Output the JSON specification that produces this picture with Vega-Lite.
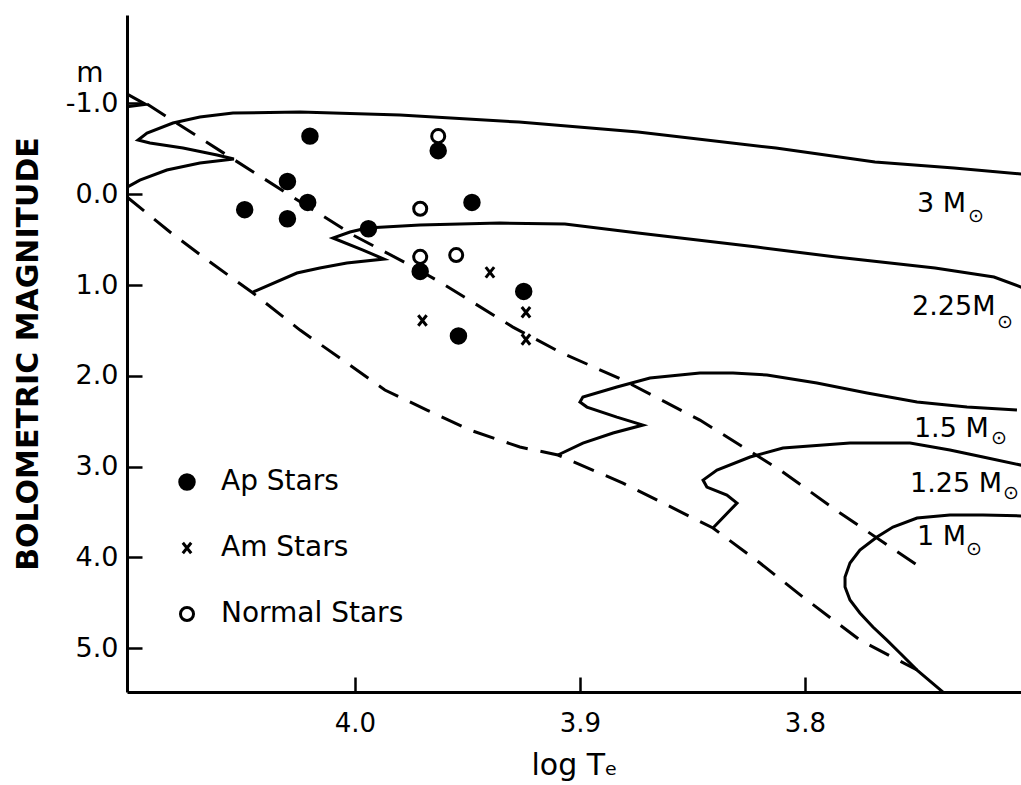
{
  "$schema": "https://vega.github.io/schema/vega-lite/v6.json",
  "width": 894,
  "height": 677,
  "autosize": {"type": "none"},
  "padding": {"left": 127, "top": 15, "right": 0, "bottom": 93},
  "background": "white",
  "config": {
    "view": {"stroke": null},
    "font": "DejaVu Sans",
    "axis": {"grid": false, "domainColor": "black", "domainWidth": 3, "tickColor": "black", "tickWidth": 2.5, "tickSize": -15, "labelColor": "black", "titleColor": "black", "labelFont": "DejaVu Sans", "titleFont": "DejaVu Sans", "labelOverlap": false, "labelFlush": false},
    "legend": {"labelFontSize": 28, "labelFont": "DejaVu Sans", "labelColor": "black", "labelLimit": 400, "symbolStrokeColor": "black", "symbolStrokeWidth": 3, "symbolOpacity": 1, "rowPadding": 38, "labelOffset": 20, "padding": 0}
  },
  "datasets": {
    "stars": [
      {"type": "Ap Stars", "x": 4.020, "y": -0.64},
      {"type": "Ap Stars", "x": 4.030, "y": -0.14},
      {"type": "Ap Stars", "x": 4.021, "y": 0.09},
      {"type": "Ap Stars", "x": 4.049, "y": 0.17},
      {"type": "Ap Stars", "x": 4.030, "y": 0.27},
      {"type": "Ap Stars", "x": 3.994, "y": 0.38},
      {"type": "Ap Stars", "x": 3.963, "y": -0.48},
      {"type": "Ap Stars", "x": 3.948, "y": 0.09},
      {"type": "Ap Stars", "x": 3.971, "y": 0.85},
      {"type": "Ap Stars", "x": 3.925, "y": 1.07},
      {"type": "Ap Stars", "x": 3.954, "y": 1.56},
      {"type": "Normal Stars", "x": 3.963, "y": -0.64},
      {"type": "Normal Stars", "x": 3.971, "y": 0.16},
      {"type": "Normal Stars", "x": 3.971, "y": 0.69},
      {"type": "Normal Stars", "x": 3.955, "y": 0.67},
      {"type": "Am Stars", "x": 3.940, "y": 0.86},
      {"type": "Am Stars", "x": 3.924, "y": 1.30},
      {"type": "Am Stars", "x": 3.970, "y": 1.39},
      {"type": "Am Stars", "x": 3.954, "y": 1.56},
      {"type": "Am Stars", "x": 3.924, "y": 1.60}
    ],
    "tracks": [
      {"id": "4M", "kind": "solid", "o": 1, "x": 4.104, "y": -1.14},
      {"id": "4M", "kind": "solid", "o": 2, "x": 4.093, "y": -0.99},
      {"id": "4M", "kind": "solid", "o": 3, "x": 4.104, "y": -0.955},
      {"id": "3M", "kind": "solid", "o": 1, "x": 4.104, "y": -0.04},
      {"id": "3M", "kind": "solid", "o": 2, "x": 4.0956, "y": -0.156},
      {"id": "3M", "kind": "solid", "o": 3, "x": 4.0836, "y": -0.267},
      {"id": "3M", "kind": "solid", "o": 4, "x": 4.0689, "y": -0.344},
      {"id": "3M", "kind": "solid", "o": 5, "x": 4.0538, "y": -0.388},
      {"id": "3M", "kind": "solid", "o": 6, "x": 4.0613, "y": -0.432},
      {"id": "3M", "kind": "solid", "o": 7, "x": 4.0764, "y": -0.509},
      {"id": "3M", "kind": "solid", "o": 8, "x": 4.0911, "y": -0.564},
      {"id": "3M", "kind": "solid", "o": 9, "x": 4.0964, "y": -0.597},
      {"id": "3M", "kind": "solid", "o": 10, "x": 4.0924, "y": -0.674},
      {"id": "3M", "kind": "solid", "o": 11, "x": 4.0809, "y": -0.784},
      {"id": "3M", "kind": "solid", "o": 12, "x": 4.0689, "y": -0.850},
      {"id": "3M", "kind": "solid", "o": 13, "x": 4.0542, "y": -0.894},
      {"id": "3M", "kind": "solid", "o": 14, "x": 4.0244, "y": -0.905},
      {"id": "3M", "kind": "solid", "o": 15, "x": 3.98, "y": -0.872},
      {"id": "3M", "kind": "solid", "o": 16, "x": 3.9271, "y": -0.795},
      {"id": "3M", "kind": "solid", "o": 17, "x": 3.8742, "y": -0.685},
      {"id": "3M", "kind": "solid", "o": 18, "x": 3.8129, "y": -0.509},
      {"id": "3M", "kind": "solid", "o": 19, "x": 3.7689, "y": -0.355},
      {"id": "3M", "kind": "solid", "o": 20, "x": 3.7338, "y": -0.289},
      {"id": "3M", "kind": "solid", "o": 21, "x": 3.7022, "y": -0.22},
      {"id": "2.25M", "kind": "solid", "o": 1, "x": 4.0453, "y": 1.077},
      {"id": "2.25M", "kind": "solid", "o": 2, "x": 4.0258, "y": 0.868},
      {"id": "2.25M", "kind": "solid", "o": 3, "x": 4.0156, "y": 0.813},
      {"id": "2.25M", "kind": "solid", "o": 4, "x": 4.0036, "y": 0.758},
      {"id": "2.25M", "kind": "solid", "o": 5, "x": 3.9871, "y": 0.714},
      {"id": "2.25M", "kind": "solid", "o": 6, "x": 3.9964, "y": 0.615},
      {"id": "2.25M", "kind": "solid", "o": 7, "x": 4.0098, "y": 0.482},
      {"id": "2.25M", "kind": "solid", "o": 8, "x": 4.0022, "y": 0.416},
      {"id": "2.25M", "kind": "solid", "o": 9, "x": 3.9947, "y": 0.372},
      {"id": "2.25M", "kind": "solid", "o": 10, "x": 3.9711, "y": 0.339},
      {"id": "2.25M", "kind": "solid", "o": 11, "x": 3.9356, "y": 0.317},
      {"id": "2.25M", "kind": "solid", "o": 12, "x": 3.9067, "y": 0.328},
      {"id": "2.25M", "kind": "solid", "o": 13, "x": 3.8742, "y": 0.427},
      {"id": "2.25M", "kind": "solid", "o": 14, "x": 3.8213, "y": 0.582},
      {"id": "2.25M", "kind": "solid", "o": 15, "x": 3.7862, "y": 0.692},
      {"id": "2.25M", "kind": "solid", "o": 16, "x": 3.7422, "y": 0.813},
      {"id": "2.25M", "kind": "solid", "o": 17, "x": 3.716, "y": 0.912},
      {"id": "2.25M", "kind": "solid", "o": 18, "x": 3.704, "y": 1.022},
      {"id": "2.25M", "kind": "solid", "o": 19, "x": 3.7022, "y": 1.044},
      {"id": "1.5M", "kind": "solid", "o": 1, "x": 3.9098, "y": 2.872},
      {"id": "1.5M", "kind": "solid", "o": 2, "x": 3.8987, "y": 2.740},
      {"id": "1.5M", "kind": "solid", "o": 3, "x": 3.8853, "y": 2.630},
      {"id": "1.5M", "kind": "solid", "o": 4, "x": 3.872, "y": 2.542},
      {"id": "1.5M", "kind": "solid", "o": 5, "x": 3.8836, "y": 2.454},
      {"id": "1.5M", "kind": "solid", "o": 6, "x": 3.8969, "y": 2.344},
      {"id": "1.5M", "kind": "solid", "o": 7, "x": 3.9, "y": 2.289},
      {"id": "1.5M", "kind": "solid", "o": 8, "x": 3.8987, "y": 2.233},
      {"id": "1.5M", "kind": "solid", "o": 9, "x": 3.8836, "y": 2.123},
      {"id": "1.5M", "kind": "solid", "o": 10, "x": 3.8689, "y": 2.024},
      {"id": "1.5M", "kind": "solid", "o": 11, "x": 3.8467, "y": 1.969},
      {"id": "1.5M", "kind": "solid", "o": 12, "x": 3.832, "y": 1.969},
      {"id": "1.5M", "kind": "solid", "o": 13, "x": 3.8169, "y": 1.991},
      {"id": "1.5M", "kind": "solid", "o": 14, "x": 3.7947, "y": 2.079},
      {"id": "1.5M", "kind": "solid", "o": 15, "x": 3.7724, "y": 2.189},
      {"id": "1.5M", "kind": "solid", "o": 16, "x": 3.7502, "y": 2.289},
      {"id": "1.5M", "kind": "solid", "o": 17, "x": 3.728, "y": 2.344},
      {"id": "1.5M", "kind": "solid", "o": 18, "x": 3.7058, "y": 2.377},
      {"id": "1.25M", "kind": "solid", "o": 1, "x": 3.8409, "y": 3.676},
      {"id": "1.25M", "kind": "solid", "o": 2, "x": 3.8302, "y": 3.401},
      {"id": "1.25M", "kind": "solid", "o": 3, "x": 3.8347, "y": 3.313},
      {"id": "1.25M", "kind": "solid", "o": 4, "x": 3.8436, "y": 3.225},
      {"id": "1.25M", "kind": "solid", "o": 5, "x": 3.8453, "y": 3.148},
      {"id": "1.25M", "kind": "solid", "o": 6, "x": 3.8391, "y": 3.037},
      {"id": "1.25M", "kind": "solid", "o": 7, "x": 3.8244, "y": 2.894},
      {"id": "1.25M", "kind": "solid", "o": 8, "x": 3.8098, "y": 2.795},
      {"id": "1.25M", "kind": "solid", "o": 9, "x": 3.78, "y": 2.740},
      {"id": "1.25M", "kind": "solid", "o": 10, "x": 3.7533, "y": 2.740},
      {"id": "1.25M", "kind": "solid", "o": 11, "x": 3.7356, "y": 2.817},
      {"id": "1.25M", "kind": "solid", "o": 12, "x": 3.7209, "y": 2.894},
      {"id": "1.25M", "kind": "solid", "o": 13, "x": 3.7022, "y": 2.993},
      {"id": "1M", "kind": "solid", "o": 1, "x": 3.7022, "y": 3.544},
      {"id": "1M", "kind": "solid", "o": 2, "x": 3.7209, "y": 3.533},
      {"id": "1M", "kind": "solid", "o": 3, "x": 3.7356, "y": 3.533},
      {"id": "1M", "kind": "solid", "o": 4, "x": 3.7502, "y": 3.566},
      {"id": "1M", "kind": "solid", "o": 5, "x": 3.7609, "y": 3.665},
      {"id": "1M", "kind": "solid", "o": 6, "x": 3.768, "y": 3.775},
      {"id": "1M", "kind": "solid", "o": 7, "x": 3.7756, "y": 3.919},
      {"id": "1M", "kind": "solid", "o": 8, "x": 3.78, "y": 4.062},
      {"id": "1M", "kind": "solid", "o": 9, "x": 3.7822, "y": 4.216},
      {"id": "1M", "kind": "solid", "o": 10, "x": 3.7822, "y": 4.326},
      {"id": "1M", "kind": "solid", "o": 11, "x": 3.78, "y": 4.469},
      {"id": "1M", "kind": "solid", "o": 12, "x": 3.7756, "y": 4.612},
      {"id": "1M", "kind": "solid", "o": 13, "x": 3.7698, "y": 4.766},
      {"id": "1M", "kind": "solid", "o": 14, "x": 3.7636, "y": 4.910},
      {"id": "1M", "kind": "solid", "o": 15, "x": 3.7578, "y": 5.053},
      {"id": "1M", "kind": "solid", "o": 16, "x": 3.7502, "y": 5.240},
      {"id": "1M", "kind": "solid", "o": 17, "x": 3.7387, "y": 5.482},
      {"id": "1M", "kind": "solid", "o": 18, "x": 3.7351, "y": 5.592},
      {"id": "upper", "kind": "dashed", "o": 1, "x": 4.0924, "y": -0.993},
      {"id": "upper", "kind": "dashed", "o": 2, "x": 4.0542, "y": -0.388},
      {"id": "upper", "kind": "dashed", "o": 3, "x": 4.0276, "y": 0.031},
      {"id": "upper", "kind": "dashed", "o": 4, "x": 4.0009, "y": 0.449},
      {"id": "upper", "kind": "dashed", "o": 5, "x": 3.9756, "y": 0.780},
      {"id": "upper", "kind": "dashed", "o": 6, "x": 3.9622, "y": 0.967},
      {"id": "upper", "kind": "dashed", "o": 7, "x": 3.9298, "y": 1.463},
      {"id": "upper", "kind": "dashed", "o": 8, "x": 3.9089, "y": 1.738},
      {"id": "upper", "kind": "dashed", "o": 9, "x": 3.8809, "y": 2.046},
      {"id": "upper", "kind": "dashed", "o": 10, "x": 3.8467, "y": 2.487},
      {"id": "upper", "kind": "dashed", "o": 11, "x": 3.8111, "y": 3.037},
      {"id": "upper", "kind": "dashed", "o": 12, "x": 3.7844, "y": 3.511},
      {"id": "upper", "kind": "dashed", "o": 13, "x": 3.7502, "y": 4.084},
      {"id": "lower", "kind": "dashed", "o": 1, "x": 4.1013, "y": 0.03},
      {"id": "lower", "kind": "dashed", "o": 2, "x": 4.0822, "y": 0.416},
      {"id": "lower", "kind": "dashed", "o": 3, "x": 4.0644, "y": 0.747},
      {"id": "lower", "kind": "dashed", "o": 4, "x": 4.0453, "y": 1.088},
      {"id": "lower", "kind": "dashed", "o": 5, "x": 4.0244, "y": 1.496},
      {"id": "lower", "kind": "dashed", "o": 6, "x": 4.0067, "y": 1.804},
      {"id": "lower", "kind": "dashed", "o": 7, "x": 3.9867, "y": 2.156},
      {"id": "lower", "kind": "dashed", "o": 8, "x": 3.968, "y": 2.377},
      {"id": "lower", "kind": "dashed", "o": 9, "x": 3.9489, "y": 2.597},
      {"id": "lower", "kind": "dashed", "o": 10, "x": 3.9267, "y": 2.784},
      {"id": "lower", "kind": "dashed", "o": 11, "x": 3.9098, "y": 2.872},
      {"id": "lower", "kind": "dashed", "o": 12, "x": 3.8809, "y": 3.181},
      {"id": "lower", "kind": "dashed", "o": 13, "x": 3.8613, "y": 3.423},
      {"id": "lower", "kind": "dashed", "o": 14, "x": 3.8409, "y": 3.676},
      {"id": "lower", "kind": "dashed", "o": 15, "x": 3.82, "y": 4.062},
      {"id": "lower", "kind": "dashed", "o": 16, "x": 3.8009, "y": 4.436},
      {"id": "lower", "kind": "dashed", "o": 17, "x": 3.7756, "y": 4.910},
      {"id": "lower", "kind": "dashed", "o": 18, "x": 3.7502, "y": 5.240}
    ],
    "labels": [
      {"x": 3.7502, "y": 0.198, "text": "3 M"},
      {"x": 3.7524, "y": 1.330, "text": "2.25M"},
      {"x": 3.7516, "y": 2.674, "text": "1.5 M"},
      {"x": 3.7533, "y": 3.280, "text": "1.25 M"},
      {"x": 3.7502, "y": 3.863, "text": "1 M"}
    ],
    "subs": [
      {"x": 3.7276, "y": 0.306, "text": "⊙"},
      {"x": 3.7147, "y": 1.474, "text": "⊙"},
      {"x": 3.7173, "y": 2.751, "text": "⊙"},
      {"x": 3.7120, "y": 3.357, "text": "⊙"},
      {"x": 3.7284, "y": 3.974, "text": "⊙"}
    ],
    "unit": [
      {"x": 4.1178, "y": -1.236, "text": "m"}
    ]
  },
  "layer": [
    {
      "data": {"name": "tracks"},
      "transform": [{"filter": "datum.kind === 'solid'"}],
      "mark": {"type": "line", "stroke": "black", "strokeWidth": 3, "clip": true, "strokeJoin": "miter"},
      "encoding": {
        "x": {"field": "x", "type": "quantitative", "scale": {"domain": [3.704, 4.1013], "reverse": true, "nice": false, "zero": false}, "axis": {"title": "log Tₑ", "values": [4.0, 3.9, 3.8], "format": ".1f", "labelFontSize": 26, "labelPadding": 33, "titleFontSize": 30, "titleFontWeight": "normal", "titlePadding": 14}},
        "y": {"field": "y", "type": "quantitative", "scale": {"domain": [-1.974, 5.482], "reverse": true, "nice": false, "zero": false}, "axis": {"title": "BOLOMETRIC MAGNITUDE", "values": [-1, 0, 1, 2, 3, 4, 5], "labelExpr": "datum.value < 0 ? '-' + format(-datum.value, '.1f') : format(datum.value, '.1f')", "labelFontSize": 27, "labelPadding": 24, "titleFontSize": 30, "titleFontWeight": "bold", "titlePadding": 22}},
        "detail": {"field": "id"},
        "order": {"field": "o", "type": "quantitative"}
      }
    },
    {
      "data": {"name": "tracks"},
      "transform": [{"filter": "datum.kind === 'dashed'"}],
      "mark": {"type": "line", "stroke": "black", "strokeWidth": 3, "strokeDash": [22, 13], "clip": true},
      "encoding": {
        "x": {"field": "x", "type": "quantitative", "scale": {"domain": [3.704, 4.1013], "reverse": true, "nice": false, "zero": false}, "axis": {"title": "log Tₑ", "values": [4.0, 3.9, 3.8], "format": ".1f", "labelFontSize": 26, "labelPadding": 33, "titleFontSize": 30, "titleFontWeight": "normal", "titlePadding": 14}},
        "y": {"field": "y", "type": "quantitative", "scale": {"domain": [-1.974, 5.482], "reverse": true, "nice": false, "zero": false}, "axis": {"title": "BOLOMETRIC MAGNITUDE", "values": [-1, 0, 1, 2, 3, 4, 5], "labelExpr": "datum.value < 0 ? '-' + format(-datum.value, '.1f') : format(datum.value, '.1f')", "labelFontSize": 27, "labelPadding": 24, "titleFontSize": 30, "titleFontWeight": "bold", "titlePadding": 22}},
        "detail": {"field": "id"},
        "order": {"field": "o", "type": "quantitative"}
      }
    },
    {
      "mark": {"type": "rule", "stroke": "black", "strokeWidth": 3},
      "encoding": {
        "y": {"datum": -1.974, "type": "quantitative", "scale": {"domain": [-1.974, 5.482], "reverse": true, "nice": false, "zero": false}, "axis": {"title": "BOLOMETRIC MAGNITUDE", "values": [-1, 0, 1, 2, 3, 4, 5], "labelExpr": "datum.value < 0 ? '-' + format(-datum.value, '.1f') : format(datum.value, '.1f')", "labelFontSize": 27, "labelPadding": 24, "titleFontSize": 30, "titleFontWeight": "bold", "titlePadding": 22}}
      }
    },
    {
      "data": {"name": "stars"},
      "mark": {"type": "point", "filled": false, "strokeWidth": 3, "opacity": 1},
      "encoding": {
        "x": {"field": "x", "type": "quantitative", "scale": {"domain": [3.704, 4.1013], "reverse": true, "nice": false, "zero": false}, "axis": {"title": "log Tₑ", "values": [4.0, 3.9, 3.8], "format": ".1f", "labelFontSize": 26, "labelPadding": 33, "titleFontSize": 30, "titleFontWeight": "normal", "titlePadding": 14}},
        "y": {"field": "y", "type": "quantitative", "scale": {"domain": [-1.974, 5.482], "reverse": true, "nice": false, "zero": false}, "axis": {"title": "BOLOMETRIC MAGNITUDE", "values": [-1, 0, 1, 2, 3, 4, 5], "labelExpr": "datum.value < 0 ? '-' + format(-datum.value, '.1f') : format(datum.value, '.1f')", "labelFontSize": 27, "labelPadding": 24, "titleFontSize": 30, "titleFontWeight": "bold", "titlePadding": 22}},
        "shape": {"field": "type", "type": "nominal", "scale": {"domain": ["Ap Stars", "Am Stars", "Normal Stars"], "range": ["circle", "M-0.8,-1L0.8,1M0.8,-1L-0.8,1", "circle"]}, "legend": {"title": null, "orient": "none", "legendX": 46, "legendY": 453}},
        "fill": {"field": "type", "type": "nominal", "scale": {"domain": ["Ap Stars", "Am Stars", "Normal Stars"], "range": ["black", "transparent", "white"]}, "legend": {"title": null, "orient": "none", "legendX": 46, "legendY": 453}},
        "stroke": {"field": "type", "type": "nominal", "scale": {"domain": ["Ap Stars", "Am Stars", "Normal Stars"], "range": ["black", "black", "black"]}, "legend": {"title": null, "orient": "none", "legendX": 46, "legendY": 453}},
        "size": {"field": "type", "type": "nominal", "scale": {"type": "ordinal", "domain": ["Ap Stars", "Am Stars", "Normal Stars"], "range": [210, 110, 170]}, "legend": {"title": null, "orient": "none", "legendX": 46, "legendY": 453}}
      }
    },
    {
      "data": {"name": "labels"},
      "mark": {"type": "text", "align": "left", "baseline": "alphabetic", "fontSize": 27, "font": "DejaVu Sans", "color": "black"},
      "encoding": {
        "x": {"field": "x", "type": "quantitative", "scale": {"domain": [3.704, 4.1013], "reverse": true, "nice": false, "zero": false}, "axis": {"title": "log Tₑ", "values": [4.0, 3.9, 3.8], "format": ".1f", "labelFontSize": 26, "labelPadding": 33, "titleFontSize": 30, "titleFontWeight": "normal", "titlePadding": 14}},
        "y": {"field": "y", "type": "quantitative", "scale": {"domain": [-1.974, 5.482], "reverse": true, "nice": false, "zero": false}, "axis": {"title": "BOLOMETRIC MAGNITUDE", "values": [-1, 0, 1, 2, 3, 4, 5], "labelExpr": "datum.value < 0 ? '-' + format(-datum.value, '.1f') : format(datum.value, '.1f')", "labelFontSize": 27, "labelPadding": 24, "titleFontSize": 30, "titleFontWeight": "bold", "titlePadding": 22}},
        "text": {"field": "text"}
      }
    },
    {
      "data": {"name": "subs"},
      "mark": {"type": "text", "align": "left", "baseline": "alphabetic", "fontSize": 19, "font": "DejaVu Sans", "color": "black"},
      "encoding": {
        "x": {"field": "x", "type": "quantitative", "scale": {"domain": [3.704, 4.1013], "reverse": true, "nice": false, "zero": false}, "axis": {"title": "log Tₑ", "values": [4.0, 3.9, 3.8], "format": ".1f", "labelFontSize": 26, "labelPadding": 33, "titleFontSize": 30, "titleFontWeight": "normal", "titlePadding": 14}},
        "y": {"field": "y", "type": "quantitative", "scale": {"domain": [-1.974, 5.482], "reverse": true, "nice": false, "zero": false}, "axis": {"title": "BOLOMETRIC MAGNITUDE", "values": [-1, 0, 1, 2, 3, 4, 5], "labelExpr": "datum.value < 0 ? '-' + format(-datum.value, '.1f') : format(datum.value, '.1f')", "labelFontSize": 27, "labelPadding": 24, "titleFontSize": 30, "titleFontWeight": "bold", "titlePadding": 22}},
        "text": {"field": "text"}
      }
    },
    {
      "data": {"name": "unit"},
      "mark": {"type": "text", "align": "center", "baseline": "alphabetic", "fontSize": 28, "font": "DejaVu Sans", "color": "black"},
      "encoding": {
        "x": {"field": "x", "type": "quantitative", "scale": {"domain": [3.704, 4.1013], "reverse": true, "nice": false, "zero": false}, "axis": {"title": "log Tₑ", "values": [4.0, 3.9, 3.8], "format": ".1f", "labelFontSize": 26, "labelPadding": 33, "titleFontSize": 30, "titleFontWeight": "normal", "titlePadding": 14}},
        "y": {"field": "y", "type": "quantitative", "scale": {"domain": [-1.974, 5.482], "reverse": true, "nice": false, "zero": false}, "axis": {"title": "BOLOMETRIC MAGNITUDE", "values": [-1, 0, 1, 2, 3, 4, 5], "labelExpr": "datum.value < 0 ? '-' + format(-datum.value, '.1f') : format(datum.value, '.1f')", "labelFontSize": 27, "labelPadding": 24, "titleFontSize": 30, "titleFontWeight": "bold", "titlePadding": 22}},
        "text": {"field": "text"}
      }
    }
  ]
}
